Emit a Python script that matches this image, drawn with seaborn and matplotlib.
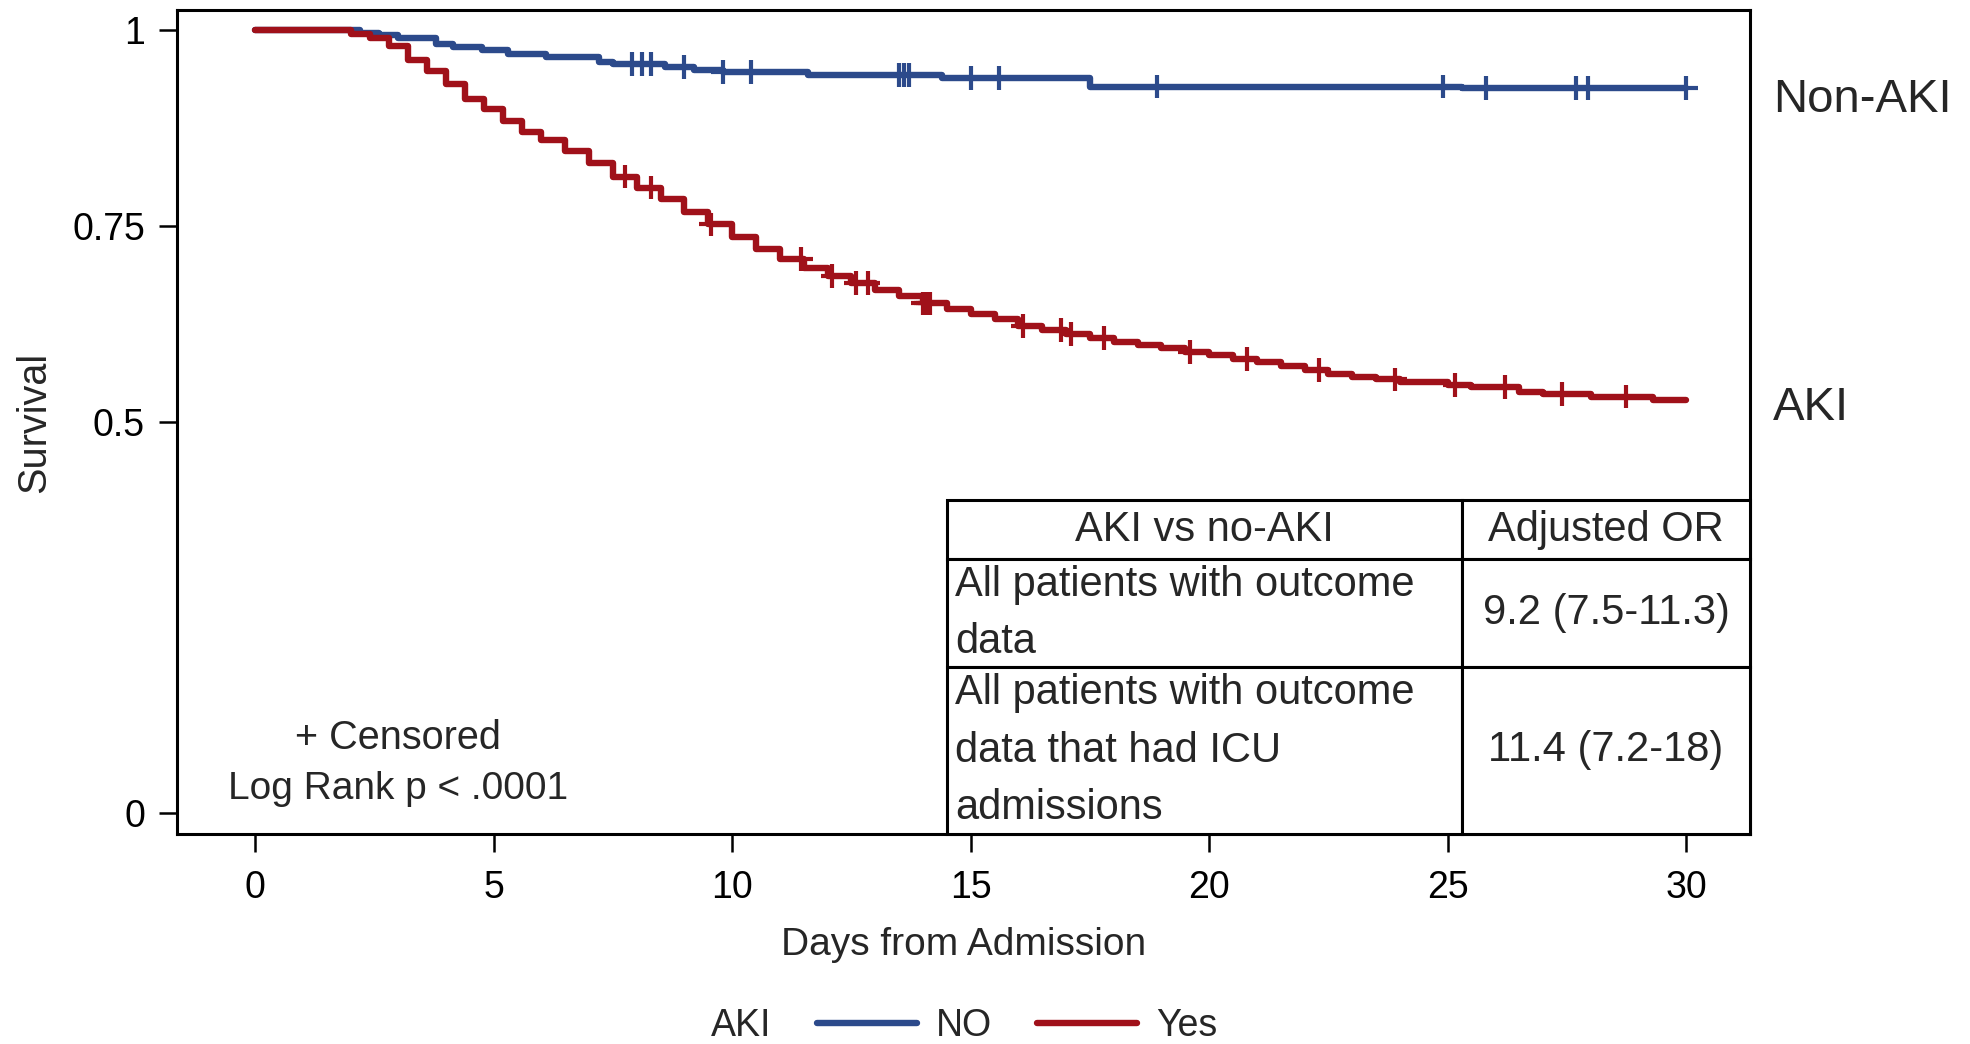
import numpy as np
import pandas as pd
import matplotlib
matplotlib.use("Agg")
import matplotlib.pyplot as plt
import seaborn as sns

# Kaplan-Meier step estimates: day of each step and survival after it
no_aki_days = [0, 2.2, 2.6, 3.0, 3.8, 4.15, 4.75, 5.3, 6.1, 7.2, 7.5, 8.6, 9.2, 9.8,
               11.6, 14.4, 17.5, 25.3, 30.0]
no_aki_surv = [1.0, 0.996, 0.994, 0.990, 0.983, 0.979, 0.975, 0.970, 0.966, 0.959,
               0.957, 0.953, 0.949, 0.947, 0.943, 0.939, 0.928, 0.926, 0.926]

aki_days = [0, 2.0, 2.4, 2.8, 3.2, 3.6, 4.0, 4.4, 4.8, 5.2, 5.6, 6.0, 6.5, 7.0, 7.5,
            8.0, 8.5, 9.0, 9.5, 10.0, 10.5, 11.0, 11.5, 12.0, 12.5, 13.0, 13.5, 14.0,
            14.5, 15.0, 15.5, 16.0, 16.5, 17.0, 17.5, 18.0, 18.5, 19.0, 19.5, 20.0,
            20.5, 21.0, 21.5, 22.0, 22.5, 23.0, 23.5, 24.0, 25.0, 25.5, 26.5, 27.0,
            28.0, 29.3, 30.0]
aki_surv = [1.0, 0.995, 0.990, 0.980, 0.962, 0.948, 0.932, 0.912, 0.899, 0.884, 0.870,
            0.860, 0.846, 0.830, 0.813, 0.799, 0.784, 0.768, 0.752, 0.736, 0.721, 0.708,
            0.696, 0.686, 0.677, 0.668, 0.660, 0.651, 0.644, 0.638, 0.631, 0.622, 0.617,
            0.612, 0.607, 0.602, 0.598, 0.594, 0.589, 0.585, 0.580, 0.576, 0.571, 0.566,
            0.561, 0.557, 0.554, 0.551, 0.547, 0.544, 0.538, 0.535, 0.532, 0.527, 0.527]

# Censoring times (days)
no_aki_censored = [7.9, 8.1, 8.3, 9.0, 9.8, 10.4, 13.5, 13.6, 13.7, 15.0, 15.6, 18.9,
                   24.9, 25.8, 27.7, 27.95, 30.0]
aki_censored = [7.75, 8.3, 9.55, 11.45, 12.1, 12.6, 12.85, 14.0, 14.05, 14.1, 14.15,
                16.1, 16.9, 17.1, 17.8, 19.6, 20.8, 22.3, 23.9, 25.15, 26.2, 27.4, 28.75]

group_labels = ["NO", "Yes"]
x_ticks = [0, 5, 10, 15, 20, 25, 30]
y_ticks = [0, 0.5, 0.75, 1]
y_tick_labels = ["0", "0.5", "0.75", "1"]

table_header = ["AKI vs no-AKI", "Adjusted OR"]
table_rows = [
    ["All patients with outcome\ndata", "9.2 (7.5-11.3)"],
    ["All patients with outcome\ndata that had ICU\nadmissions", "11.4 (7.2-18)"],
]

BLUE = "#2c4a8b"
RED = "#a0111a"
palette = {"NO": BLUE, "Yes": RED}

sns.set_style("ticks")
plt.rcParams["font.family"] = ["Liberation Sans", "DejaVu Sans"]


def step_value(days, surv, t):
    idx = np.searchsorted(days, t, side="right") - 1
    return surv[idx]


curves = pd.concat([
    pd.DataFrame({"day": no_aki_days, "survival": no_aki_surv, "AKI": "NO"}),
    pd.DataFrame({"day": aki_days, "survival": aki_surv, "AKI": "Yes"}),
], ignore_index=True)

censor = pd.concat([
    pd.DataFrame({"day": no_aki_censored,
                  "survival": [step_value(no_aki_days, no_aki_surv, t) for t in no_aki_censored],
                  "AKI": "NO"}),
    pd.DataFrame({"day": aki_censored,
                  "survival": [step_value(aki_days, aki_surv, t) for t in aki_censored],
                  "AKI": "Yes"}),
], ignore_index=True)

W, H = 1970, 1044
fig = plt.figure(figsize=(W / 100, H / 100), dpi=100)
ax = fig.add_axes([177 / W, 1 - 834 / H, (1750 - 177) / W, (834 - 10) / H])

sns.lineplot(data=curves, x="day", y="survival", hue="AKI", hue_order=group_labels,
             palette=palette, estimator=None, errorbar=None, drawstyle="steps-post",
             linewidth=4.6, legend=False, ax=ax, zorder=3)
sns.scatterplot(data=censor, x="day", y="survival", hue="AKI", hue_order=group_labels,
                palette=palette, marker="+", s=17 ** 2, linewidth=3.0, legend=False,
                ax=ax, zorder=4)

ax.set_xlim(-1.64, 31.34)
ax.set_ylim(-0.027, 1.026)
ax.set_xticks(x_ticks)
ax.set_yticks(y_ticks)
ax.set_yticklabels(y_tick_labels)
for side in ["left", "right", "top", "bottom"]:
    ax.spines[side].set_visible(True)
    ax.spines[side].set_color("black")
    ax.spines[side].set_linewidth(2.2)
ax.tick_params(axis="both", length=13, width=1.8, colors="black", labelsize=27)
ax.tick_params(axis="x", pad=13)
ax.tick_params(axis="y", pad=10)

ax.set_xlabel("Days from Admission", fontsize=28)
ax.xaxis.label.set_va("baseline")
ax.xaxis.set_label_coords(0.5, (834 - 955) / 824)
ax.set_ylabel("Survival", fontsize=28.5)
ax.yaxis.label.set_va("center")
ax.yaxis.set_label_coords((34 - 177) / 1573, 0.5)

ax.text(3.0, 0.082, "+ Censored", fontsize=28.5, ha="center", va="baseline")
ax.text(3.0, 0.018, "Log Rank p < .0001", fontsize=28, ha="center", va="baseline")

# Odds-ratio table in the lower-right corner of the plot
col_px = [515, 288]
row_px = [59, 107, 166]
tbl = ax.table(cellText=[table_header] + table_rows,
               colWidths=[c / sum(col_px) for c in col_px],
               cellLoc="center",
               bbox=[(947 - 177) / 1573, 0.0, (1750 - 947) / 1573, (834 - 500) / 824],
               zorder=6)
tbl.auto_set_font_size(False)
tbl.set_fontsize(30)
for (r, c), cell in tbl.get_celld().items():
    cell.set_height(row_px[r] / sum(row_px))
    cell.set_linewidth(2.2)
    cell.set_edgecolor("black")
    cell.set_facecolor("white")
    cell.get_text().set_linespacing(1.55)
    if c == 0 and r > 0:
        cell.PAD = 8 / 515
        cell.get_text().set_ha("left")

# Group names beside the curve ends
fig.text(1773 / W, 1 - 112 / H, "Non-AKI", fontsize=34, ha="left", va="baseline")
fig.text(1773 / W, 1 - 420 / H, "AKI", fontsize=34, ha="left", va="baseline")

# Legend along the bottom edge
fig.text(711 / W, 1 - 1036 / H, "AKI", fontsize=27, ha="left", va="baseline")
handles = ax.get_lines()[:2]
fig.legend(handles=handles, labels=group_labels, loc="center left",
           bbox_to_anchor=(817 / W, (H - 1026) / H), ncol=2, frameon=False,
           fontsize=27, handlelength=2.67, handletextpad=0.5, columnspacing=1.2,
           borderpad=0, borderaxespad=0)

fig.savefig("out.png", dpi=100, facecolor="white")
